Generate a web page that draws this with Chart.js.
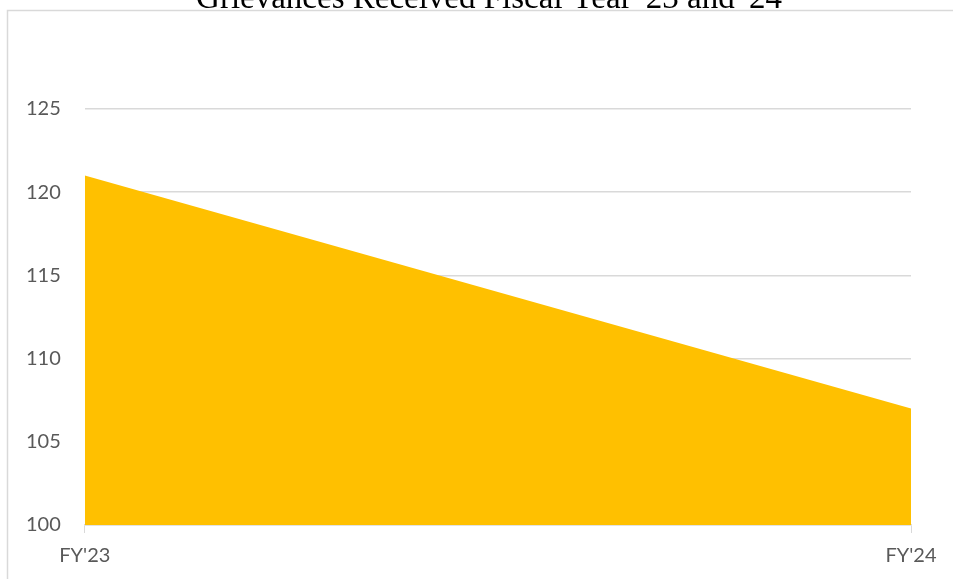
<!DOCTYPE html>
<html>
<head>
    <title>Grievances Received</title>
    <script src="https://cdn.jsdelivr.net/npm/chart.js"></script>
    <style>
        body {
            margin: 0;
            background: #fff;
        }
        .container {
            width: 953px;
            height: 579px;
            position: relative;
        }
    </style>
</head>
<body>
    <div class="container">
        <canvas id="chart" width="953" height="579"></canvas>
    </div>

    <script>
        const years = ["FY'23", "FY'24"];
        const grievances = [121, 107];
        const yTicks = [100, 105, 110, 115, 120, 125];
        const titleText = "Grievances Received Fiscal Year '23 and '24";

        const tickFont = { family: 'Lato, "Liberation Sans", sans-serif', size: 20 };

        // frame and title sit partly above the canvas edge, so draw them by hand
        const frameAndTitle = {
            id: 'frameAndTitle',
            beforeDraw(chart) {
                const ctx = chart.ctx;
                ctx.save();
                ctx.strokeStyle = '#d9d9d9';
                ctx.lineWidth = 1.5;
                ctx.strokeRect(7.5, 10.5, 1000, 700);
                ctx.restore();
            },
            afterDraw(chart) {
                const ctx = chart.ctx;
                ctx.save();
                ctx.fillStyle = '#000';
                ctx.font = '33px "Liberation Serif", serif';
                ctx.textAlign = 'center';
                ctx.textBaseline = 'alphabetic';
                ctx.fillText(titleText, 489, 8);
                ctx.restore();
            }
        };

        new Chart(document.getElementById('chart'), {
            type: 'line',
            data: {
                labels: years,
                datasets: [{
                    data: grievances,
                    backgroundColor: '#ffc000',
                    borderWidth: 0,
                    pointRadius: 0,
                    fill: 'start',
                    tension: 0
                }]
            },
            options: {
                responsive: false,
                animation: false,
                layout: {
                    padding: { top: 109, right: 42, bottom: 0, left: 2 }
                },
                plugins: {
                    legend: { display: false },
                    tooltip: { enabled: false },
                    title: { display: false }
                },
                scales: {
                    x: {
                        offset: false,
                        grid: {
                            drawOnChartArea: false,
                            drawTicks: true,
                            tickLength: 8,
                            color: '#d9d9d9'
                        },
                        border: { color: '#d9d9d9', width: 1.5 },
                        ticks: {
                            color: '#595959',
                            font: tickFont,
                            padding: 11,
                            maxRotation: 0
                        }
                    },
                    y: {
                        min: 100,
                        max: 125,
                        afterBuildTicks(axis) {
                            axis.ticks = yTicks.map(v => ({ value: v }));
                        },
                        grid: {
                            color: '#d9d9d9',
                            lineWidth: 1.5,
                            drawTicks: false
                        },
                        border: { display: false },
                        ticks: {
                            color: '#595959',
                            font: tickFont,
                            padding: 24
                        }
                    }
                }
            },
            plugins: [frameAndTitle]
        });
    </script>
</body>
</html>
